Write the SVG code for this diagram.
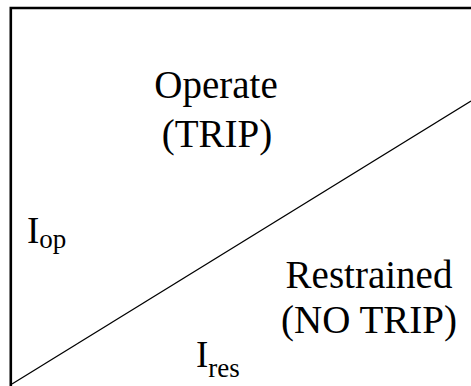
<svg xmlns="http://www.w3.org/2000/svg" width="471" height="386" viewBox="0 0 471 386">
<style>
text{font-family:'Liberation Serif','DejaVu Serif',serif;fill:#000;}
.big{font-size:39px;}
</style>
<rect width="471" height="386" fill="#fff"/>
<g id="axes" fill="none" stroke="#000">
<path d="M10.8,386 V8 H471" stroke-width="2.6"/>
</g>
<g id="connectors">
<line x1="12" y1="384" x2="471" y2="101" stroke="#000" stroke-width="1.3"/>
</g>
<g id="operate">
<text class="big" x="216" y="98" text-anchor="middle">Operate</text>
<text class="big" x="217" y="147" text-anchor="middle">(TRIP)</text>
</g>
<g id="restrained">
<text class="big" x="369" y="288" text-anchor="middle">Restrained</text>
<text class="big" x="369" y="333" text-anchor="middle">(NO TRIP)</text>
</g>
<g id="iop">
<text x="27" y="243"><tspan font-size="37">I</tspan><tspan font-size="27" dy="5">op</tspan></text>
</g>
<g id="ires">
<text x="196" y="367"><tspan font-size="37">I</tspan><tspan font-size="27" dy="10">res</tspan></text>
</g>
</svg>
